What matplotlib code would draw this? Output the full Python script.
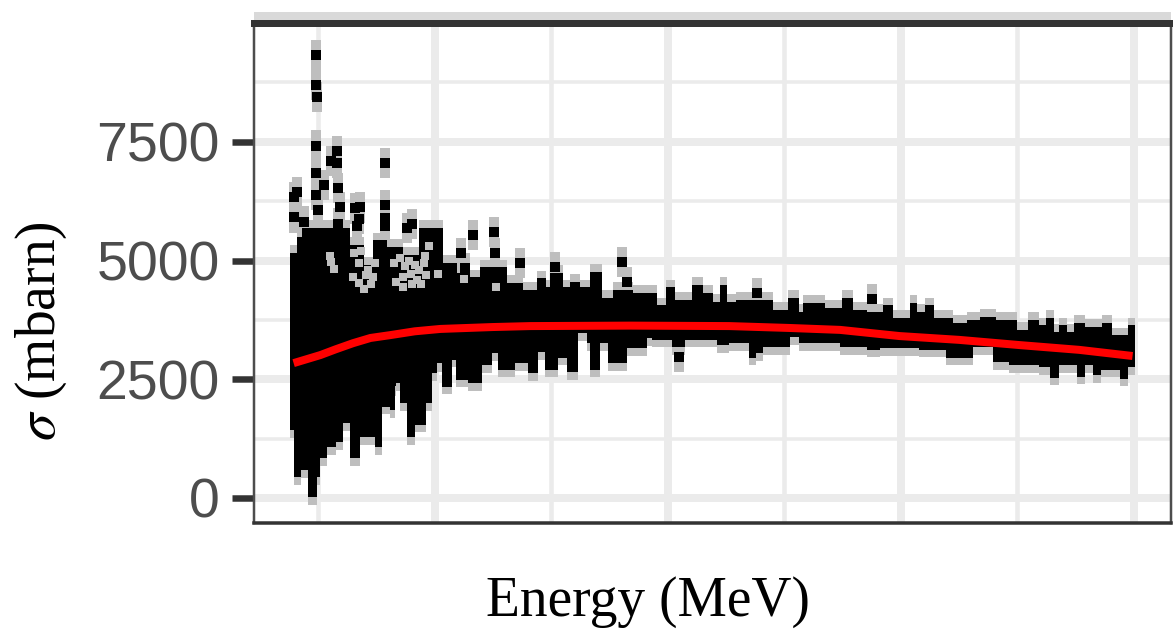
import matplotlib
matplotlib.use('Agg')
import matplotlib.pyplot as plt
import numpy as np

plt.rcParams['font.family'] = ['Liberation Sans', 'DejaVu Sans']
plt.rcParams['mathtext.fontset'] = 'stix'

# upper edge of the dense cloud of points
top_energy = [1, 7, 11, 52, 64, 72, 84, 98, 112, 132, 144, 155, 164, 187, 201, 213, 221, 224, 235, 241,
              250, 258, 269, 278, 295, 316, 324, 331, 346, 355, 364, 370, 376, 384, 415, 428, 438, 441,
              460, 475, 484, 496, 510, 518, 533, 539, 546, 554, 570, 582, 593, 607, 625, 634, 644, 650,
              657, 661, 668, 674, 683, 698, 706, 720, 726]
top_sigma = [5160, 5500, 5690, 5330, 4910, 5430, 5290, 5120, 5690, 4950, 4740, 4650, 4860, 4530, 4380,
             4630, 4440, 4740, 4440, 4550, 4440, 4760, 4210, 4380, 4320, 4060, 4440, 4170, 4490, 4320,
             4130, 4490, 4130, 4170, 3960, 4210, 3920, 4110, 4000, 4210, 3960, 3920, 4060, 3790, 4110,
             3920, 4060, 3790, 3690, 3750, 3810, 3750, 3540, 3750, 3640, 3790, 3500, 3640, 3500, 3690,
             3600, 3690, 3430, 3640, 3640]

# lower edge of the dense cloud of points
low_energy = [1, 4, 10, 16, 24, 27, 33, 40, 46, 52, 61, 74, 80, 87, 91, 95, 101, 108, 118, 123, 127, 131,
              140, 143, 154, 166, 174, 179, 194, 205, 214, 220, 231, 239, 248, 256, 258, 267, 274, 290,
              307, 312, 329, 340, 367, 378, 395, 401, 407, 430, 438, 473, 496, 507, 541, 564, 587, 604,
              618, 644, 653, 661, 676, 683, 690, 697, 713, 720, 726]
low_sigma = [1430, 440, 590, 20, 440, 840, 1070, 1180, 1580, 840, 1280, 1070, 1920, 1850, 2420, 2000, 1280,
             1540, 2000, 2630, 2840, 2340, 2910, 2490, 2420, 2800, 3050, 2700, 2840, 2630, 3070, 2700,
             2950, 2650, 3470, 3260, 2700, 3260, 2840, 3160, 3370, 3330, 3180, 3330, 3220, 3260, 2950,
             3050, 3180, 3390, 3260, 3180, 3120, 3160, 3120, 2950, 3180, 2860, 2800, 2760, 2530, 2800,
             2550, 2800, 2590, 2700, 2510, 2760, 2760]

# single points standing clear of the cloud
point_energy = [23, 23, 24, 23, 23, 30, 23, 25, 41, 36, 41, 42, 44, 7, 4, 4, 13, 61, 57, 58, 82, 82, 82,
                82, 101, 106, 158, 176, 148, 177, 151, 198, 228, 286, 290, 402, 500, 335, 88, 130, 42, 60]
point_sigma = [9330, 8700, 8450, 7420, 6850, 6590, 6380, 6060, 7310, 7100, 7060, 6530, 6120, 6440, 6340,
               5910, 5820, 6120, 6100, 5720, 7060, 6170, 5900, 5730, 5690, 5770, 5540, 5600, 5160, 5160,
               4840, 4950, 4860, 4970, 4550, 4320, 4190, 2970, 2460, 2970, 5780, 5880]

# grey holes where the error bars show through the cloud
hole_energy = [55, 60, 64, 68, 72, 36, 39, 95, 100, 105, 110, 113, 117, 90, 120, 128, 150, 178,
               56, 60, 66, 70, 74, 92, 98, 103, 108, 112, 116, 118, 35, 62, 98, 106]
hole_sigma = [4650, 4520, 4400, 4800, 4650, 4970, 4820, 5050, 4880, 4720, 4600, 4500, 5100, 4950, 5300,
              4720, 4620, 4450, 5150, 4950, 4700, 4500, 4950, 4550, 4650, 5000, 4900, 4800, 4950, 4700,
              5100, 5200, 4450, 4500]

# fitted curve
fit_energy = [4, 27, 40, 55, 70, 87, 108, 130, 175, 207, 293, 378, 430, 473, 524, 575, 627, 678, 724]
fit_sigma = [2840, 3010, 3130, 3260, 3370, 3430, 3510, 3560, 3600, 3620, 3630, 3620, 3580, 3540, 3410,
             3330, 3220, 3120, 2990]

err_bar = 160

y_ticks = [0, 2500, 5000, 7500]
y_minor = [1250, 3750, 6250, 8750]
x_major = [125, 325, 525, 725]
x_minor = [25, 225, 425, 625]

W, H = 1173, 629
px = 72 / 100  # line widths are read in pixels


def step_outline(energy, sigma):
    # the band is made of flat columns
    xs = np.repeat(energy, 2)[1:]
    ys = np.repeat(sigma, 2)[:-1]
    return xs, ys


fig = plt.figure(figsize=(W / 100, H / 100), dpi=100)
ax = fig.add_axes([254 / W, 1 - 523 / H, (1171 - 254) / W, (523 - 23) / H])
ax.set_xlim(-30, 757)
ax.set_ylim(-527, 10003)

for y in y_ticks:
    ax.axhline(y, color='#ebebeb', lw=8 * px, zorder=1)
for y in y_minor:
    ax.axhline(y, color='#ebebeb', lw=3.5 * px, zorder=1)
for x in x_major:
    ax.axvline(x, color='#ebebeb', lw=8 * px, zorder=1)
for x in x_minor:
    ax.axvline(x, color='#ebebeb', lw=4.5 * px, zorder=1)

tx, ty = step_outline(top_energy, top_sigma)
lx, ly = step_outline(low_energy, low_sigma)
band_x = np.concatenate([tx, lx[::-1]])

# grey error bars first, the black points on top
ax.fill(band_x, np.concatenate([ty + err_bar, (ly - err_bar)[::-1]]), color='#bebebe', lw=0, zorder=2)
ax.vlines(point_energy, np.array(point_sigma) - 2 * err_bar, np.array(point_sigma) + 2 * err_bar,
          color='#bebebe', lw=10 * px, zorder=2)
ax.fill(band_x, np.concatenate([ty, ly[::-1]]), color='black', lw=0, zorder=3)
ax.scatter(hole_energy, hole_sigma, marker='s', s=26, color='#bebebe', lw=0, zorder=4)
ax.scatter(point_energy, point_sigma, marker='s', s=42, color='black', lw=0, zorder=5)

ax.plot(fit_energy, fit_sigma, color='red', lw=8 * px, zorder=6, solid_capstyle='butt')

ax.set_yticks(y_ticks)
ax.set_xticks([])
ax.tick_params(axis='y', length=22 * px, width=6.5 * px, color='#333333', labelcolor='#4d4d4d',
               labelsize=40, pad=9)
for name in ['left', 'right']:
    ax.spines[name].set_color('#4d4d4d')
    ax.spines[name].set_linewidth(2.5 * px)
ax.spines['bottom'].set_color('#333333')
ax.spines['bottom'].set_linewidth(3.5 * px)
ax.spines['top'].set_color('#333333')
ax.spines['top'].set_linewidth(7 * px)

# strip on top of the panel
strip = fig.add_axes([254 / W, 1 - 20 / H, (1171 - 254) / W, 8 / H])
strip.set_facecolor('#d9d9d9')
strip.set_xticks([])
strip.set_yticks([])
for spine in strip.spines.values():
    spine.set_visible(False)

fig.text(648 / W, 1 - 602 / H, 'Energy (MeV)', family='Liberation Serif', fontsize=40,
         ha='center', va='center', color='black')
fig.text(41 / W, 1 - 331 / H, r'$\sigma$ (mbarn)', family='Liberation Serif', fontsize=40,
         rotation=90, ha='center', va='center', color='black')

fig.savefig('out.png', dpi=100)
